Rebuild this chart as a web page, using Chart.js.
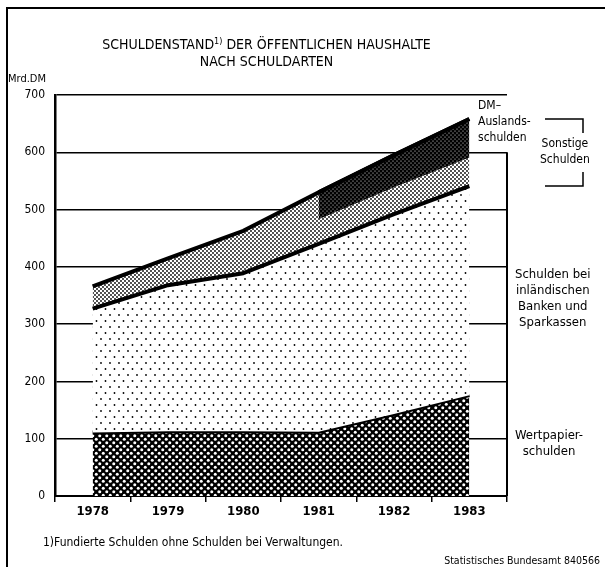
<!DOCTYPE html>
<html lang="de">
<head>
<meta charset="utf-8">
<script src="https://cdn.jsdelivr.net/npm/chart.js@4.4.0/dist/chart.umd.min.js"></script>
<style>
  body { margin: 0; width: 605px; height: 567px; overflow: hidden; background: #fff; position: relative;
         font-family: "Liberation Sans Narrow", "DejaVu Sans Condensed", sans-serif; color: #000; }
  #rahmen { position: absolute; left: 6px; top: 7px; width: 640px; height: 640px;
            border-left: 2px solid #000; border-top: 2px solid #000; }
  canvas { position: absolute; left: 0; top: 0; }
  .t { position: absolute; white-space: nowrap; font-size: 12px; line-height: 16px; }
  .titel { left: 0; width: 533px; text-align: center; font-size: 14px; line-height: 17px; }
  sup { font-size: 9px; vertical-align: 5px; line-height: 0; }
</style>
</head>
<body>
<div id="rahmen"></div>
<canvas id="grafik" width="605" height="567"></canvas>

<div class="t titel" style="top:36px">SCHULDENSTAND<sup>1)</sup> DER ÖFFENTLICHEN HAUSHALTE</div>
<div class="t titel" style="top:53px">NACH SCHULDARTEN</div>
<div class="t" style="left:8px;top:71px;font-size:11px">Mrd.DM</div>

<div class="t" style="left:478px;top:97px">DM–<br>Auslands-<br>schulden</div>
<div class="t" style="left:540px;top:135px;text-align:center">Sonstige<br>Schulden</div>
<div class="t" style="left:515px;top:266px;text-align:center;font-size:13px">Schulden bei<br>inländischen<br>Banken und<br>Sparkassen</div>
<div class="t" style="left:515px;top:427px;text-align:center;font-size:13px">Wertpapier-<br>schulden</div>

<div class="t" style="left:43px;top:534px">1)Fundierte Schulden ohne Schulden bei Verwaltungen.</div>
<div class="t" style="right:5px;top:552px;font-size:10.5px">Statistisches Bundesamt 840566</div>

<script>
// Jahre
const jahre = ['1978', '1979', '1980', '1981', '1982', '1983'];

// Schuldarten in Mrd. DM
const wertpapierschulden = [111, 113, 113, 112, 143, 176];
const bankschulden = [216, 255, 276, 328, 349, 365];
const sonstigeSchulden = [39, 47, 74, 90, 103, 117]; // inkl. Auslandsschulden
const auslandsschulden = [null, null, null, 47, 56, 67]; // erst ab 1981 ausgewiesen

const yTicks = [0, 100, 200, 300, 400, 500, 600, 700];

const schrift = '"Liberation Sans Narrow", "DejaVu Sans Condensed", sans-serif';

// kumulierte Werte fuer die Flaechen
const summe1 = wertpapierschulden.slice();
const summe2 = summe1.map((v, i) => v + bankschulden[i]);
const summe3 = summe2.map((v, i) => v + sonstigeSchulden[i]);
const auslandOben = auslandsschulden.map((v, i) => v == null ? null : summe3[i]);
const auslandUnten = auslandsschulden.map((v, i) => v == null ? null : summe3[i] - v);

// Rastermuster wie im Druck
function muster(breite, hoehe, grund, punkt, punkte, r) {
  const c = document.createElement('canvas');
  c.width = breite; c.height = hoehe;
  const g = c.getContext('2d');
  g.fillStyle = grund;
  g.fillRect(0, 0, breite, hoehe);
  g.fillStyle = punkt;
  punkte.forEach(p => {
    g.beginPath();
    g.arc(p[0], p[1], r, 0, Math.PI * 2);
    g.fill();
  });
  return g.createPattern(c, 'repeat');
}

const rasterWertpapier = muster(7, 7, '#000', '#fff', [[1.75, 1.75], [5.25, 5.25]], 1.5);
const rasterBanken = muster(9, 12, '#fff', '#000', [[2, 3], [6.5, 9]], 0.9);
const rasterSonstige = muster(4, 4, '#fff', '#000', [[1, 1], [3, 3]], 0.9);
const rasterAusland = muster(4, 4, '#000', '#fff', [[1, 1], [3, 3]], 0.55);

const zusatz = {
  id: 'zusatz',
  afterDatasetsDraw(chart) {
    const ctx = chart.ctx;
    const y = chart.scales.y;
    const area = chart.chartArea;
    ctx.save();
    ctx.strokeStyle = '#000';
    ctx.lineWidth = 2;
    ctx.beginPath();
    ctx.moveTo(area.right, y.getPixelForValue(600));
    ctx.lineTo(area.right, y.getPixelForValue(0));
    ctx.stroke();
    // Klammer "Sonstige Schulden"
    ctx.lineWidth = 1.5;
    ctx.beginPath();
    ctx.moveTo(545, 119); ctx.lineTo(583, 119); ctx.lineTo(583, 133);
    ctx.moveTo(583, 172); ctx.lineTo(583, 186); ctx.lineTo(545, 186);
    ctx.stroke();
    ctx.restore();
  }
};

const linie = { pointRadius: 0, tension: 0, borderColor: '#000', borderWidth: 4, borderJoinStyle: 'round' };

new Chart(document.getElementById('grafik'), {
  type: 'line',
  data: {
    labels: jahre,
    datasets: [
      Object.assign({ label: 'Wertpapierschulden', data: summe1, fill: 'origin', backgroundColor: rasterWertpapier, order: 4 }, linie),
      Object.assign({ label: 'Schulden bei inländischen Banken und Sparkassen', data: summe2, fill: '-1', backgroundColor: rasterBanken, order: 3 }, linie),
      Object.assign({ label: 'Sonstige Schulden', data: summe3, fill: '-1', backgroundColor: rasterSonstige, order: 5 }, linie),
      { label: 'unten', data: auslandUnten, fill: false, pointRadius: 0, borderWidth: 0, borderColor: 'rgba(0,0,0,0)', order: 6 },
      Object.assign({ label: 'DM-Auslandsschulden', data: auslandOben, fill: '-1', backgroundColor: rasterAusland, order: 2 }, linie)
    ]
  },
  options: {
    responsive: false,
    animation: false,
    layout: { padding: { left: 0, top: 95, right: 98, bottom: 0 } },
    plugins: { legend: { display: false }, tooltip: { enabled: false }, title: { display: false } },
    scales: {
      x: {
        offset: true,
        grid: { offset: true, drawOnChartArea: false, drawTicks: true, tickLength: 6, color: '#000', lineWidth: 1.5 },
        border: { color: '#000', width: 2 },
        ticks: { color: '#000', padding: 2, font: { family: schrift, size: 13, weight: 'bold' } },
        afterFit(s) { s.height = 71; }
      },
      y: {
        min: 0, max: 700,
        afterBuildTicks(s) { s.ticks = yTicks.map(v => ({ value: v })); },
        grid: { drawTicks: false, color: '#000', lineWidth: 1.5 },
        border: { color: '#000', width: 2.5 },
        ticks: { color: '#000', padding: 10, font: { family: schrift, size: 12 } },
        afterFit(s) { s.width = 55; }
      }
    }
  },
  plugins: [zusatz]
});
</script>
</body>
</html>
